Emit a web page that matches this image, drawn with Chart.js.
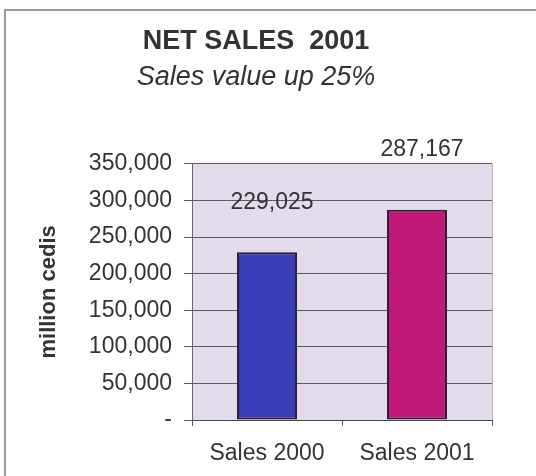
<!DOCTYPE html>
<html>
<head>
<meta charset="utf-8">
<script src="https://cdn.jsdelivr.net/npm/chart.js@4/dist/chart.umd.min.js"></script>
<style>
  html, body { margin: 0; padding: 0; background: #fff; }
  #wrap { position: relative; width: 536px; height: 476px; }
  #frame { position: absolute; left: 4px; top: 9px; right: -4px; bottom: -4px;
           border-left: 2px solid #9a9a9a; border-top: 2px solid #9a9a9a; }
  canvas { position: absolute; left: 0; top: 0; }
</style>
</head>
<body>
<div id="wrap">
  <div id="frame"></div>
  <canvas id="sales-chart" width="536" height="476"></canvas>
</div>
<script>
var categories = ["Sales 2000", "Sales 2001"];
var netSales = [229025, 287167];
var yTicks = [0, 50000, 100000, 150000, 200000, 250000, 300000, 350000];

var barColors = ['#3a3eb6', '#c0197a'];
var textColor = '#333333';
var fontFamily = '"Liberation Sans", Arial, sans-serif';

function fmt(v) {
  if (v === 0) return '-';
  return v.toLocaleString('en-US');
}

// lavender plot background
var plotBg = {
  id: 'plotBg',
  beforeDraw: function (chart) {
    var a = chart.chartArea, ctx = chart.ctx;
    ctx.save();
    ctx.fillStyle = '#e3dbeb';
    ctx.fillRect(a.left, a.top, a.right - a.left, a.bottom - a.top);
    ctx.strokeStyle = '#b8b0c0';
    ctx.lineWidth = 1;
    ctx.beginPath();
    ctx.moveTo(a.right + 0.5, a.top);
    ctx.lineTo(a.right + 0.5, a.bottom);
    ctx.stroke();
    ctx.restore();
  }
};

// value labels, set up above the bars like the original
var valueLabels = {
  id: 'valueLabels',
  afterDatasetsDraw: function (chart, args, opts) {
    var ctx = chart.ctx;
    var meta = chart.getDatasetMeta(0);
    ctx.save();
    ctx.font = '23px ' + fontFamily;
    ctx.fillStyle = textColor;
    ctx.textAlign = 'center';
    ctx.textBaseline = 'middle';
    meta.data.forEach(function (bar, i) {
      var v = chart.data.datasets[0].data[i];
      ctx.fillText(fmt(v), bar.x + opts.dx[i], bar.y - opts.dy[i]);
    });
    ctx.restore();
  }
};

var ctx = document.getElementById('sales-chart');
var salesChart = new Chart(ctx, {
  type: 'bar',
  data: {
    labels: categories,
    datasets: [{
      label: 'Net sales',
      data: netSales,
      backgroundColor: barColors,
      borderColor: '#2a2030',
      borderWidth: 2,
      borderSkipped: false,
      barPercentage: 0.4,
      categoryPercentage: 1
    }]
  },
  options: {
    responsive: false,
    animation: false,
    layout: { padding: { top: 8, right: 24, left: 0, bottom: 0 } },
    plugins: {
      legend: { display: false },
      tooltip: { enabled: false },
      title: {
        display: true,
        text: 'NET SALES  2001',
        color: textColor,
        font: { family: fontFamily, size: 27, weight: 'bold' },
        padding: { top: 17, bottom: 4 }
      },
      subtitle: {
        display: true,
        text: 'Sales value up 25%',
        color: textColor,
        font: { family: fontFamily, size: 27, style: 'italic' },
        padding: { top: 0, bottom: 70 }
      },
      valueLabels: { dx: [5, 5], dy: [50, 60] }
    },
    scales: {
      x: {
        grid: { display: true, drawOnChartArea: false, offset: true, tickLength: 6, color: '#555' },
        border: { color: '#444', width: 1 },
        ticks: {
          color: textColor,
          padding: 14,
          font: { family: fontFamily, size: 23 }
        },
        afterFit: function (scale) { scale.height = 56; }
      },
      y: {
        min: 0,
        max: 350000,
        afterBuildTicks: function (scale) {
          scale.ticks = yTicks.map(function (v) { return { value: v }; });
        },
        grid: { color: '#5a5a5a', lineWidth: 1, tickLength: 8 },
        border: { color: '#666', width: 1 },
        ticks: {
          color: textColor,
          padding: 12,
          font: { family: fontFamily, size: 23 },
          callback: function (v) { return fmt(v); }
        },
        title: {
          display: true,
          text: 'million cedis',
          color: textColor,
          font: { family: fontFamily, size: 22, weight: 'bold' },
          padding: { top: 36, bottom: 0 }
        },
        afterFit: function (scale) { scale.width = 192; }
      },
      // empty right-hand spacer so the titles centre like the original
      yRight: {
        position: 'right',
        min: 0,
        max: 350000,
        grid: { display: false },
        border: { display: false },
        ticks: { display: false },
        afterFit: function (scale) { scale.width = 20; }
      }
    }
  },
  plugins: [plotBg, valueLabels]
});
</script>
</body>
</html>
